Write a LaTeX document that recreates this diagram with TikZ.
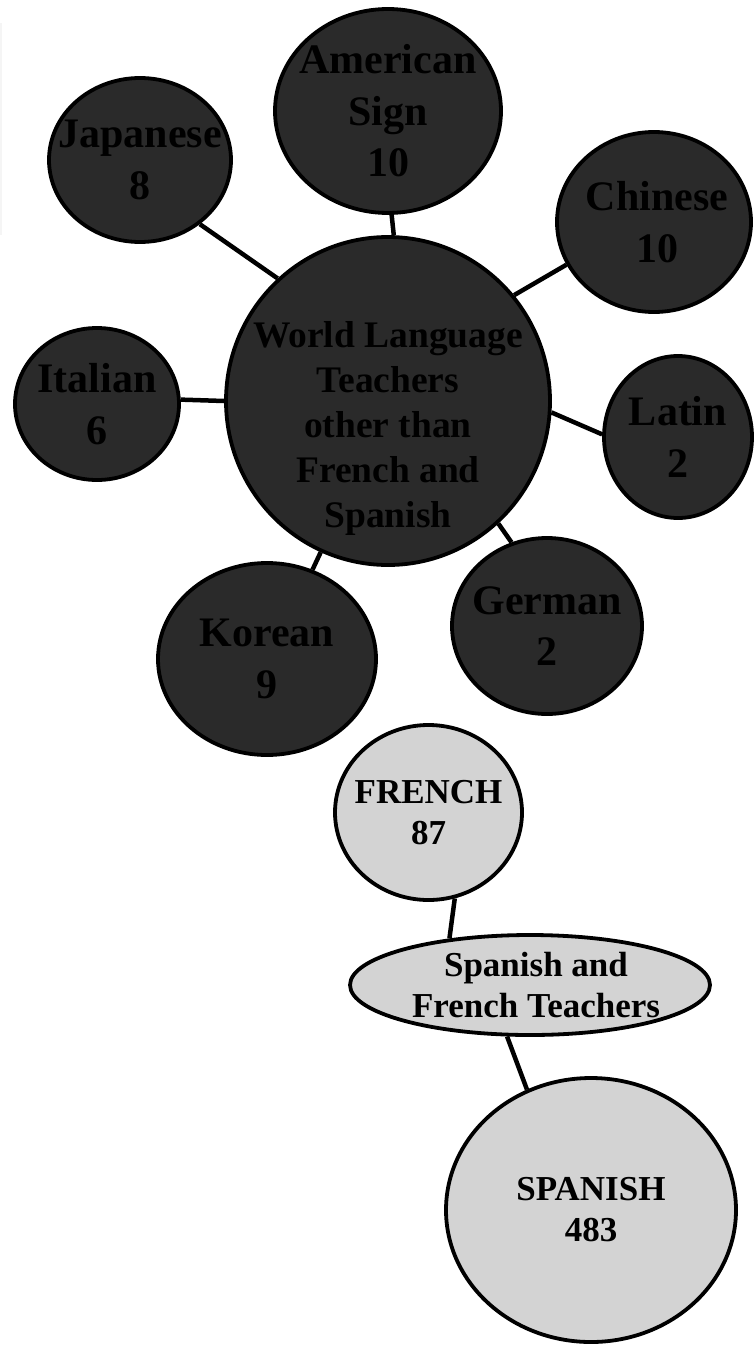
\documentclass[tikz,border=0pt]{standalone}
\usepackage{fontspec}
\setmainfont{Liberation Serif}
\usetikzlibrary{shapes.geometric}
\definecolor{bubbledark}{RGB}{42,42,42}
\definecolor{bubblelight}{RGB}{211,211,211}
\begin{document}
\begin{tikzpicture}[x=1pt, y=-1pt, line join=round,
  dark/.style={ellipse, draw=black, line width=3.8pt, fill=bubbledark, inner sep=0pt},
  light/.style={ellipse, draw=black, line width=3.8pt, fill=bubblelight, inner sep=0pt},
  dtext/.style={align=center, text=black, font=\bfseries\fontsize{42}{51.5}\selectfont},
  wtext/.style={align=center, text=black, font=\bfseries\fontsize{37.5}{45}\selectfont},
  ltext/.style={align=center, text=black, font=\bfseries\fontsize{35}{41}\selectfont},
  link/.style={line width=4.5pt}]
\useasboundingbox (0,0) rectangle (753,1346);
% faint edge mark
\draw[gray!8, line width=2pt] (1,23) -- (1,235);
% other world languages
\node[dark, minimum width=324, minimum height=328,
  label={[wtext, yshift=-27pt]center:World Language\\Teachers\\other than\\French and\\Spanish}] (world) at (388,401) {};
\node[dark, minimum width=226, minimum height=204, label={[dtext]center:American\\Sign\\10}] (american) at (388,111) {};
\node[dark, minimum width=182, minimum height=164, label={[dtext]center:Japanese\\8}] (japanese) at (140,160) {};
\node[dark, minimum width=194, minimum height=180, label={[dtext, xshift=3pt]center:Chinese\\10}] (chinese) at (654,222) {};
\node[dark, minimum width=164, minimum height=152, label={[dtext]center:Italian\\6}] (italian) at (97,404) {};
\node[dark, minimum width=148, minimum height=162, label={[dtext]center:Latin\\2}] (latin) at (678,437) {};
\node[dark, minimum width=218, minimum height=192, label={[dtext]center:Korean\\9}] (korean) at (267,659) {};
\node[dark, minimum width=190, minimum height=176, label={[dtext]center:German\\2}] (german) at (547,626) {};
% french and spanish
\node[light, minimum width=187, minimum height=175, label={[ltext]center:FRENCH\\87}] (french) at (428.5,812.5) {};
\node[light, minimum width=360, minimum height=100, label={[ltext, xshift=6pt]center:Spanish and\\French Teachers}] (both) at (530,985) {};
\node[light, minimum width=290, minimum height=264, label={[ltext]center:SPANISH\\483}] (spanish) at (591,1210) {};
% links
\draw[link] (japanese.-47) -- (world.132);
\draw[link] (american.-88) -- (world.88);
\draw[link] (chinese.206) -- (world.40);
\draw[link] (world.-4) -- (latin.178);
\draw[link] (italian.3) -- (world.180);
\draw[link] (korean.63) -- (world.-114);
\draw[link] (world.-48) -- (german.113);
\draw[link] (french.-73) -- (both.150);
\draw[link] (both.-114) -- (spanish.118);
\end{tikzpicture}
\end{document}
